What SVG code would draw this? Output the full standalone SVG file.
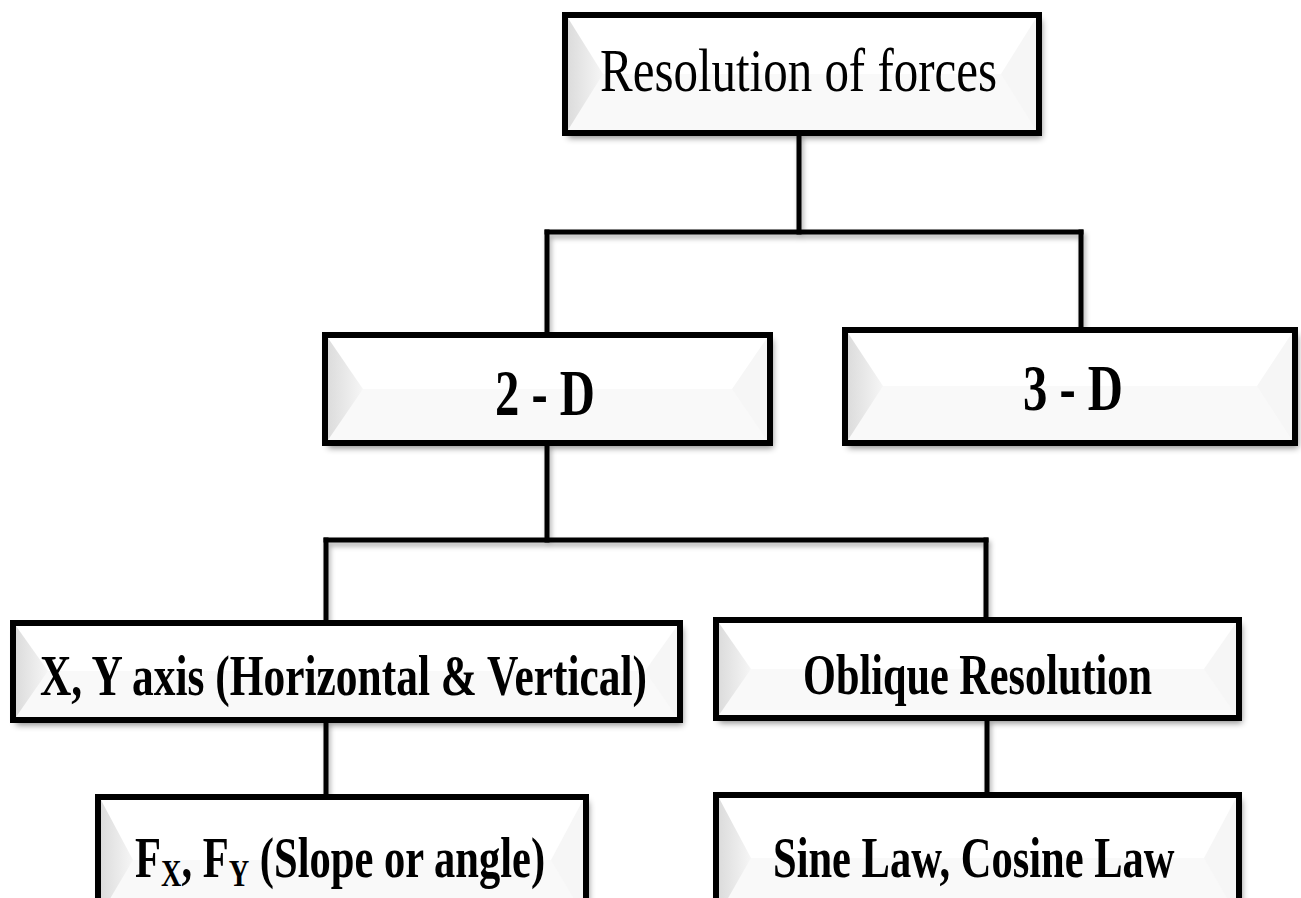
<svg xmlns="http://www.w3.org/2000/svg" width="1301" height="898" viewBox="0 0 1301 898">
<defs>
<style>
.box{fill:none;stroke:#000;stroke-width:6}
.bg{fill:#ffffff}
.low{fill:#f9f9f9}
.lf{fill:url(#lg)}
.rf{fill:#f6f6f6}
.conn line{stroke:#000;stroke-width:5;stroke-linecap:square}
.t{font-family:"Liberation Serif","Times New Roman",serif;fill:#000}
.b{font-weight:bold}
</style>
<linearGradient id="lg" x1="0" y1="0" x2="1" y2="0">
<stop offset="0" stop-color="#dcdcdc"/>
<stop offset="1" stop-color="#f6f6f6"/>
</linearGradient>
<filter id="sh" x="-5%" y="-10%" width="115%" height="130%">
<feDropShadow dx="3" dy="5" stdDeviation="3" flood-color="#000" flood-opacity="0.45"/>
</filter>
<filter id="shl" x="-5%" y="-20%" width="115%" height="150%">
<feDropShadow dx="2" dy="4" stdDeviation="2.5" flood-color="#000" flood-opacity="0.3"/>
</filter>
</defs>
<rect width="1301" height="898" fill="#fff"/>

<g id="connectors" class="conn" filter="url(#shl)">
<line x1="799" y1="136" x2="799" y2="232"/>
<line x1="547" y1="232" x2="1081" y2="232"/>
<line x1="547" y1="232" x2="547" y2="332"/>
<line x1="1081" y1="232" x2="1081" y2="327"/>
<line x1="547" y1="446" x2="547" y2="540"/>
<line x1="326" y1="540" x2="986" y2="540"/>
<line x1="326" y1="540" x2="326" y2="620"/>
<line x1="986" y1="540" x2="986" y2="617"/>
<line x1="326" y1="723" x2="326" y2="794"/>
<line x1="987" y1="721" x2="987" y2="792"/>
</g>

<g id="node-resolution">
<rect x="565" y="15" width="474" height="118" class="bg" filter="url(#sh)"/>
<rect x="568" y="74" width="468" height="56" class="low"/>
<polygon points="568,18 603,74 568,130" class="lf"/>
<polygon points="1036,18 1001,74 1036,130" class="rf"/>
<rect x="565" y="15" width="474" height="118" class="box"/>
<text x="600" y="91" class="t" font-size="62" textLength="397" lengthAdjust="spacingAndGlyphs">Resolution of forces</text>
</g>

<g id="node-2d">
<rect x="325" y="335" width="445" height="108" class="bg" filter="url(#sh)"/>
<rect x="328" y="389" width="439" height="51" class="low"/>
<polygon points="328,338 363,389 328,440" class="lf"/>
<polygon points="767,338 732,389 767,440" class="rf"/>
<rect x="325" y="335" width="445" height="108" class="box"/>
<text x="495" y="415" class="t b" font-size="65" textLength="100" lengthAdjust="spacingAndGlyphs">2 - D</text>
</g>

<g id="node-3d">
<rect x="845" y="330" width="450" height="113" class="bg" filter="url(#sh)"/>
<rect x="848" y="386" width="444" height="54" class="low"/>
<polygon points="848,333 883,386 848,440" class="lf"/>
<polygon points="1292,333 1257,386 1292,440" class="rf"/>
<rect x="845" y="330" width="450" height="113" class="box"/>
<text x="1023" y="410" class="t b" font-size="65" textLength="100" lengthAdjust="spacingAndGlyphs">3 - D</text>
</g>

<g id="node-xy">
<rect x="13" y="623" width="667" height="97" class="bg" filter="url(#sh)"/>
<rect x="16" y="671" width="661" height="46" class="low"/>
<polygon points="16,626 48,671 16,717" class="lf"/>
<polygon points="677,626 645,671 677,717" class="rf"/>
<rect x="13" y="623" width="667" height="97" class="box"/>
<text x="40" y="695" class="t b" font-size="56" textLength="607" lengthAdjust="spacingAndGlyphs">X, Y axis (Horizontal &amp; Vertical)</text>
</g>

<g id="node-oblique">
<rect x="716" y="620" width="523" height="98" class="bg" filter="url(#sh)"/>
<rect x="719" y="669" width="517" height="46" class="low"/>
<polygon points="719,623 751,669 719,715" class="lf"/>
<polygon points="1236,623 1204,669 1236,715" class="rf"/>
<rect x="716" y="620" width="523" height="98" class="box"/>
<text x="803" y="694" class="t b" font-size="56" textLength="349" lengthAdjust="spacingAndGlyphs">Oblique Resolution</text>
</g>

<g id="node-fxfy">
<rect x="98" y="797" width="488" height="120" class="bg" filter="url(#sh)"/>
<rect x="101" y="860" width="482" height="54" class="low"/>
<polygon points="101,800 133,860 101,914" class="lf"/>
<polygon points="583,800 551,860 583,914" class="rf"/>
<rect x="98" y="797" width="488" height="120" class="box"/>
<text transform="translate(135,877) scale(0.7466,1)" x="0" y="0" class="t b" font-size="57">F<tspan font-size="38" dy="9">X</tspan><tspan dy="-9">, F</tspan><tspan font-size="38" dy="9">Y</tspan><tspan dy="-9"> (Slope or angle)</tspan></text>
</g>

<g id="node-sine">
<rect x="716" y="795" width="523" height="122" class="bg" filter="url(#sh)"/>
<rect x="719" y="858" width="517" height="56" class="low"/>
<polygon points="719,798 751,858 719,914" class="lf"/>
<polygon points="1236,798 1204,858 1236,914" class="rf"/>
<rect x="716" y="795" width="523" height="122" class="box"/>
<text transform="translate(773,877) scale(0.746,1)" x="0" y="0" class="t b" font-size="57">Sine Law, Cosine Law</text>
</g>
</svg>
